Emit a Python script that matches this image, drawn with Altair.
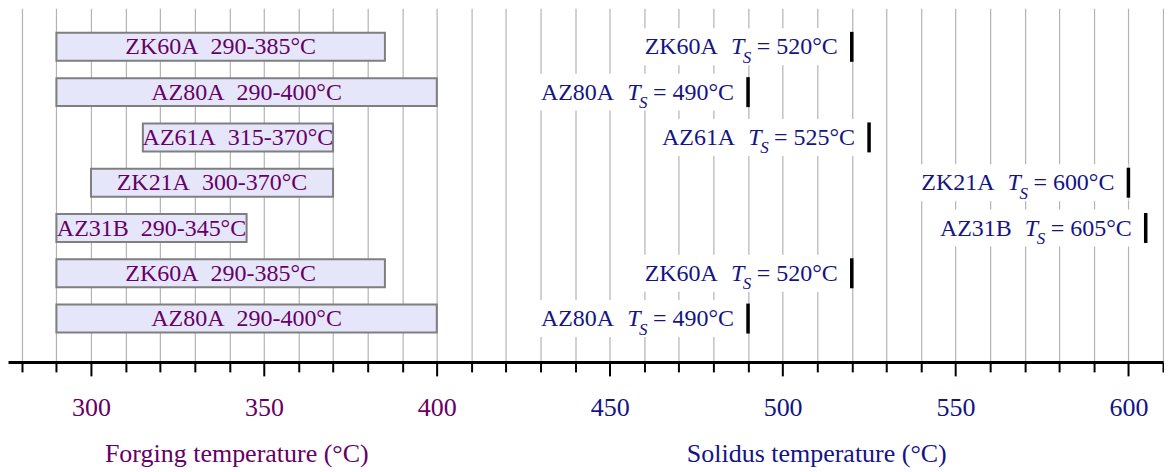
import altair as alt
import pandas as pd

# ---- data ----
alloys = ["ZK60A", "AZ80A", "AZ61A", "ZK21A", "AZ31B", "ZK60A", "AZ80A"]
forge_lo = [290, 290, 315, 300, 290, 290, 290]
forge_hi = [385, 400, 370, 370, 345, 385, 400]
solidus = [520, 490, 525, 600, 605, 520, 490]
tick_values = list(range(280, 611, 10))
forge_title = ["Forging temperature (°C)"]
solidus_title = ["Solidus temperature (°C)"]

PURPLE = "#660066"
BLUE = "#141485"
FONT = "Liberation Serif"
NB = "\u00a0"

df = pd.DataFrame({
    "row": list(range(1, len(alloys) + 1)),
    "alloy": alloys,
    "lo": forge_lo,
    "hi": forge_hi,
    "ts": solidus,
})
df["forge_label"] = [f"{a}{NB}{NB}{l}-{h}°C" for a, l, h in zip(alloys, forge_lo, forge_hi)]
df["ts_label"] = [f"={NB}{t}°C" for t in solidus]

xscale = alt.Scale(domain=[276, 610], nice=False, zero=False)
xaxis = alt.Axis(
    values=tick_values,
    title=None,
    grid=True,
    gridColor="#b3b3b3",
    gridWidth=1.2,
    domainColor="black",
    domainWidth=3,
    tickColor="black",
    tickWidth=2,
    tickSize={"condition": {"test": "datum.value % 50 === 0", "value": 14}, "value": 10},
    labelExpr="datum.value % 50 === 0 ? datum.label : ''",
    labelFont=FONT,
    labelFontSize=26,
    labelColor={"condition": {"test": "datum.value <= 400", "value": PURPLE}, "value": BLUE},
    labelPadding=19,
    labelFlush=False,
    labelOverlap=False,
    format="d",
)
yenc = alt.Y("row:O", axis=None,
             scale=alt.Scale(paddingInner=0, paddingOuter=0.405, align=0.436))


def xenc(field):
    return alt.X(field, type="quantitative", scale=xscale, axis=xaxis)


base = alt.Chart(df)

forge_bars = base.mark_bar(fill="#E6E6FA", stroke="#7f7f7f", strokeWidth=2, size=28).encode(
    x=xenc("lo"), x2="hi", y=yenc)

forge_text = base.transform_calculate(mid="(datum.lo + datum.hi) / 2").mark_text(
    font=FONT, fontSize=24, color=PURPLE, baseline="alphabetic", dy=7.6, align="center"
).encode(x=xenc("mid"), y=yenc, text="forge_label:N")

white_box = base.mark_bar(fill="white", size=37, xOffset=-209).encode(
    x=xenc("ts"), x2="ts", y=yenc)

marker = base.mark_tick(color="black", opacity=1, thickness=3.5, size=30,
                        orient="vertical").encode(x=xenc("ts"), y=yenc)

ts_value = base.mark_text(font=FONT, fontSize=24, color=BLUE, baseline="alphabetic",
                          dy=7.6, align="right", dx=-14).encode(
    x=xenc("ts"), y=yenc, text="ts_label:N")

ts_T = base.mark_text(font=FONT, fontSize=24, color=BLUE, baseline="alphabetic",
                      dy=7.6, align="left", dx=-121, fontStyle="italic", text="T").encode(
    x=xenc("ts"), y=yenc)

ts_S = base.mark_text(font=FONT, fontSize=17, color=BLUE, baseline="alphabetic",
                      dy=16, align="left", dx=-109, fontStyle="italic", text="S").encode(
    x=xenc("ts"), y=yenc)

ts_name = base.mark_text(font=FONT, fontSize=24, color=BLUE, baseline="alphabetic",
                         dy=7.6, align="right", dx=-134).encode(
    x=xenc("ts"), y=yenc, text="alloy:N")

t1 = alt.Chart(pd.DataFrame({"t": forge_title})).mark_text(
    font=FONT, fontSize=26, color=PURPLE, baseline="alphabetic", align="center").encode(
    x=alt.value(229), y=alt.value(454.5), text="t:N")
t2 = alt.Chart(pd.DataFrame({"t": solidus_title})).mark_text(
    font=FONT, fontSize=26, color=BLUE, baseline="alphabetic", align="center").encode(
    x=alt.value(809.5), y=alt.value(454.5), text="t:N")

chart = alt.layer(
    forge_bars, forge_text, white_box, marker, ts_value, ts_T, ts_S, ts_name, t1, t2
).properties(
    width=1156, height=354,
    padding={"left": 0, "top": 0, "right": 0, "bottom": 0},
).configure_view(stroke=None)

chart.save("out.html", embed_options={"renderer": "svg", "actions": False})
